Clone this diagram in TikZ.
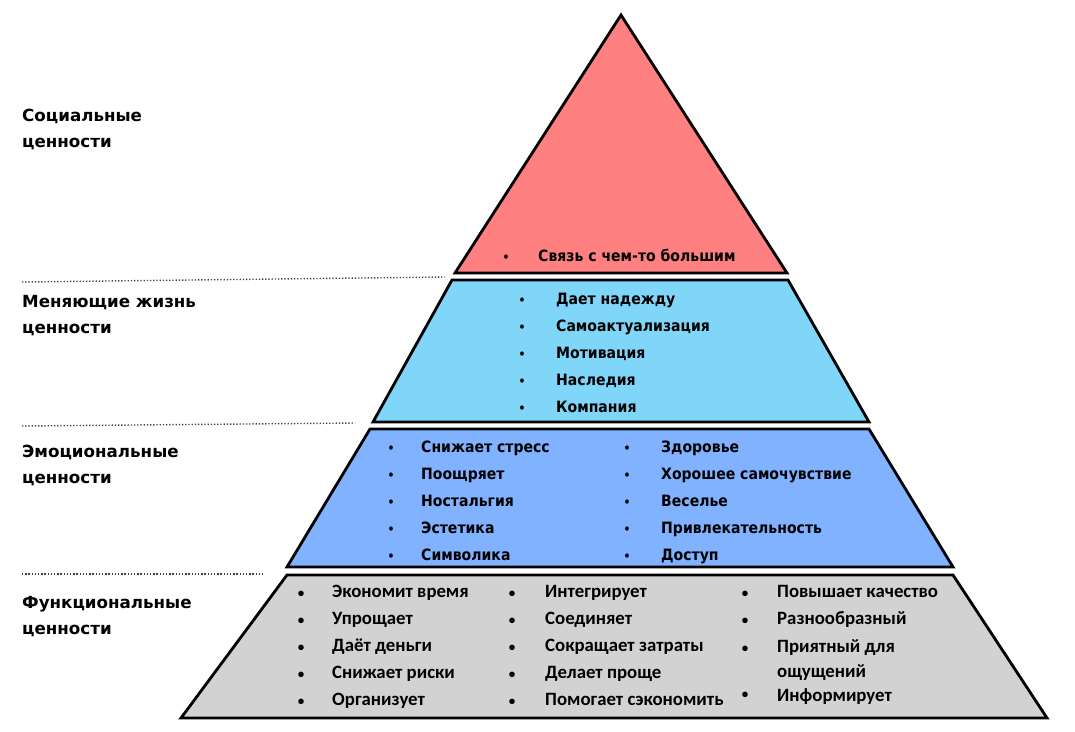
\documentclass[tikz,border=0pt]{standalone}
\usepackage{fontspec}
\setmainfont{DejaVu Sans}
\newfontfamily\tierfont{DejaVu Sans}[FakeStretch=0.9]
\newfontfamily\funcfont{Carlito}
\usetikzlibrary{positioning}
\definecolor{socialred}{RGB}{255,128,128}
\definecolor{lifeblue}{RGB}{128,214,248}
\definecolor{emoblue}{RGB}{128,178,255}
\definecolor{funcgray}{RGB}{210,210,210}

\begin{document}
\begin{tikzpicture}[x=1pt, y=-1pt,
    tier/.style={draw=black, line width=2.8pt, line join=miter},
    sepline/.style={line width=1.4pt, dash pattern=on 1.3pt off 1.9pt, black!75},
    level/.style={anchor=base west, inner sep=0pt, align=left, font=\fontsize{16.7}{26}\selectfont\bfseries},
    item/.style={anchor=base west, inner sep=0pt, font=\fontsize{15.6}{18}\tierfont\bfseries},
    bul/.style={anchor=base, inner sep=0pt, font=\fontsize{12}{14}\tierfont\bfseries},
    fitem/.style={anchor=base west, inner sep=0pt, font=\fontsize{18.8}{20}\funcfont\bfseries},
    fbul/.style={anchor=base, inner sep=0pt, font=\fontsize{13}{14}\funcfont\bfseries}]
    \useasboundingbox (0,0) rectangle (1075,731);
    % Tiers
    \draw[tier, fill=socialred] (621,15) -- (787,273) -- (455,273) -- cycle;
    \draw[tier, fill=lifeblue] (452,280) -- (788,280) -- (869,422) -- (373,422) -- cycle;
    \draw[tier, fill=emoblue] (370,429) -- (869,429) -- (953,567) -- (287,567) -- cycle;
    \draw[tier, fill=funcgray] (287,575) -- (953,575) -- (1047,718) -- (181,718) -- cycle;
    % Separators
    \draw[sepline] (22,282) -- (445,277);
    \draw[sepline] (22,426) -- (355,423);
    \draw[sepline] (22,574) -- (263,574);
    % Levels (base = last line)
    \node[level] (social) at (22,147) {Социальные\\ценности};
    \node[level] (life) at (22,333) {Меняющие жизнь\\ценности};
    \node[level] (emo) at (22,483) {Эмоциональные\\ценности};
    \node[level] (func) at (22,634) {Функциональные\\ценности};
    % Social
    \node[bul] (sb1) at (506,261) {\textbullet};
    \node[item] (s1) at (538,261) {Связь с чем-то большим};
    % Life changing
    \foreach \txt [count=\i] in {Дает надежду, Самоактуализация, Мотивация, Наследия, Компания} {
        \node[bul] (lb\i) at (522,{304+27*(\i-1)}) {\textbullet};
        \node[item] (l\i) at (556,{304+27*(\i-1)}) {\txt};
    }
    % Emotional
    \foreach \txt [count=\i] in {Снижает стресс, Поощряет, Ностальгия, Эстетика, Символика} {
        \node[bul] (eb\i) at (391,{452+27.2*(\i-1)}) {\textbullet};
        \node[item] (e\i) at (421,{452+27.2*(\i-1)}) {\txt};
    }
    \foreach \txt [count=\i] in {Здоровье, Хорошее самочувствие, Веселье, Привлекательность, Доступ} {
        \node[bul] (fb\i) at (627,{452+27.2*(\i-1)}) {\textbullet};
        \node[item] (f\i) at (661,{452+27.2*(\i-1)}) {\txt};
    }
    % Functional
    \foreach \txt [count=\i] in {Экономит время, Упрощает, Даёт деньги, Снижает риски, Организует} {
        \node[fbul] (ab\i) at (301,{597+27*(\i-1)}) {\textbullet};
        \node[fitem] (a\i) at (332,{597+27*(\i-1)}) {\txt};
    }
    \foreach \txt [count=\i] in {Интегрирует, Соединяет, Сокращает затраты, Делает проще, Помогает сэкономить} {
        \node[fbul] (bb\i) at (512,{597+27*(\i-1)}) {\textbullet};
        \node[fitem] (b\i) at (545,{597+27*(\i-1)}) {\txt};
    }
    \node[fbul] (cb1) at (745,597) {\textbullet};
    \node[fitem] (c1) at (777,597) {Повышает качество};
    \node[fbul] (cb2) at (745,624) {\textbullet};
    \node[fitem] (c2) at (777,624) {Разнообразный};
    \node[fbul] (cb3) at (745,652) {\textbullet};
    \node[fitem] (c3) at (777,652) {Приятный для};
    \node[fitem] (c3b) at (777,677) {ощущений};
    \node[fbul] (cb4) at (745,698) {\textbullet};
    \node[fitem] (c4) at (777,701) {Информирует};
\end{tikzpicture}
\end{document}
